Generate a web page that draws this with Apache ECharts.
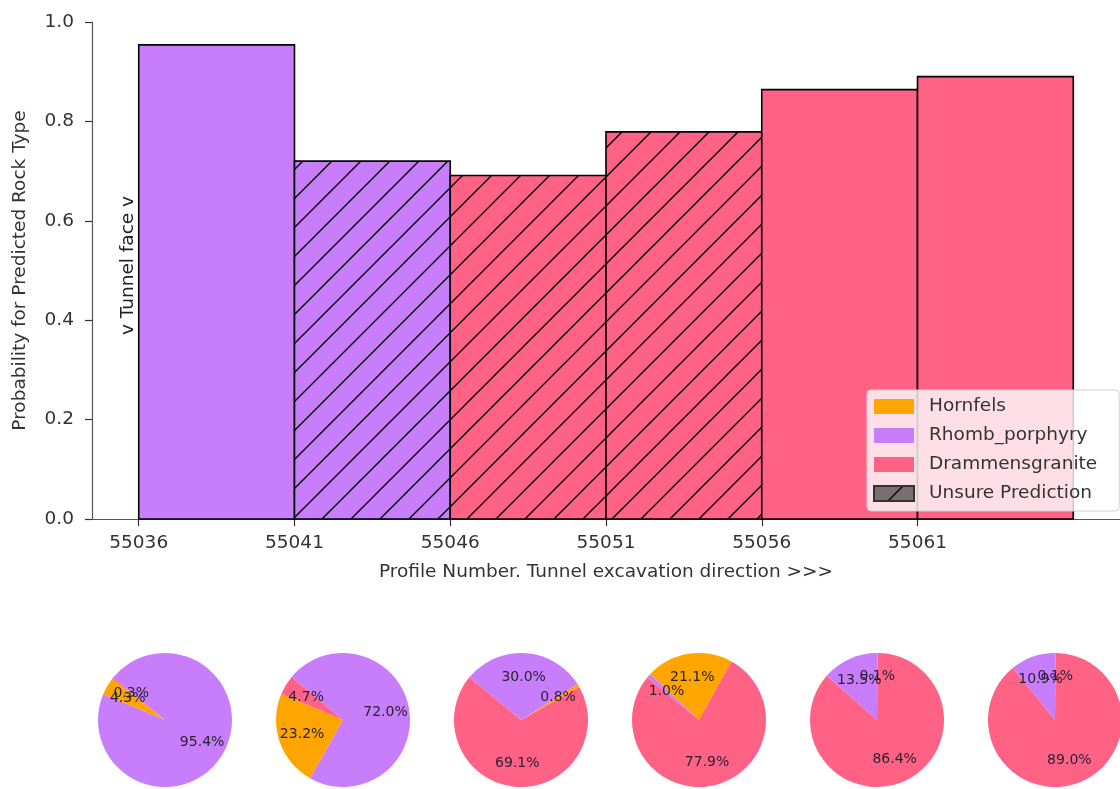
<!DOCTYPE html>
<html>
<head>
<meta charset="utf-8">
<title>Rock type prediction along tunnel</title>
<script src="https://cdn.jsdelivr.net/npm/echarts@6/dist/echarts.min.js"></script>
<style>
  html, body { margin: 0; padding: 0; background: #fff; }
  #chart { width: 1120px; height: 789px; }
</style>
</head>
<body>
<div id="chart"></div>
<script>
// Profile bins (start of each 5-profile section) and tick labels
const profileStarts = [55036, 55041, 55046, 55051, 55056, 55061];
const binWidth = 5;
const xTickValues = [55036, 55041, 55046, 55051, 55056, 55061];
const yTickValues = [0.0, 0.2, 0.4, 0.6, 0.8, 1.0];

// Rock classes
const rockTypes = ['Hornfels', 'Rhomb_porphyry', 'Drammensgranite'];
const rockColors = ['#ffa500', '#c87dfa', '#ff6285'];

// Predicted class probabilities (percent) per section
const hornfelsPct = [4.3, 23.2, 0.8, 21.1, 0.1, 0.1];
const rhombPct    = [95.4, 72.0, 30.0, 1.0, 13.5, 10.9];
const drammenPct  = [0.3, 4.7, 69.1, 77.9, 86.4, 89.0];

// Sections flagged as unsure predictions
const unsureFlags = [false, true, true, true, false, false];

// Start angle of each pie (degrees, first wedge drawn counter-clockwise)
const pieStartAngles = [142, 157, 29.5, 61, 89.6, 89.6];

const FONT = 'DejaVu Sans';
const FS = 18.5;

// Diagonal hatch pattern over a base colour
function hatchPattern(base) {
  const s = 29;
  const c = document.createElement('canvas');
  c.width = s; c.height = s;
  const g = c.getContext('2d');
  g.fillStyle = base;
  g.fillRect(0, 0, s, s);
  g.strokeStyle = '#000';
  g.lineWidth = 1.4;
  g.beginPath();
  g.moveTo(0, s); g.lineTo(s, 0);
  g.moveTo(-s / 2, s / 2); g.lineTo(s / 2, -s / 2);
  g.moveTo(s / 2, s * 1.5); g.lineTo(s * 1.5, s / 2);
  g.stroke();
  return { image: c, repeat: 'repeat' };
}
const hatchFills = rockColors.map(hatchPattern);
const unsureLegendFill = hatchPattern('#7a6e70');

// Bars: predicted class = highest probability
const barData = profileStarts.map((x0, i) => {
  const probs = [hornfelsPct[i], rhombPct[i], drammenPct[i]];
  let k = 0;
  probs.forEach((p, j) => { if (p > probs[k]) k = j; });
  return [x0, x0 + binWidth, probs[k] / 100, k, unsureFlags[i] ? 1 : 0];
});

const chart = echarts.init(document.getElementById('chart'));

const series = [];
series.push({
  type: 'custom',
  name: 'bars',
  data: barData,
  encode: { x: [0, 1], y: 2 },
  renderItem: function (params, api) {
    const x0 = api.value(0), x1 = api.value(1), v = api.value(2);
    const k = api.value(3), unsure = api.value(4);
    const p0 = api.coord([x0, 0]);
    const p1 = api.coord([x1, v]);
    return {
      type: 'rect',
      shape: { x: p0[0], y: p1[1], width: p1[0] - p0[0], height: p0[1] - p1[1] },
      style: {
        fill: unsure ? hatchFills[k] : rockColors[k],
        stroke: '#000',
        lineWidth: 1.6
      }
    };
  },
  silent: true,
  z: 2
});

// Legend-only entries
rockTypes.forEach((name, j) => {
  series.push({ type: 'bar', name: name, data: [], itemStyle: { color: rockColors[j] } });
});
series.push({
  type: 'bar', name: 'Unsure Prediction', data: [],
  itemStyle: { color: unsureLegendFill, borderColor: '#333', borderWidth: 1 }
});

// Pies: one per section
const pieCentersX = [165, 343, 521, 699, 877, 1055];
const pieCenterY = 720;
const pieRadius = 67;
profileStarts.forEach((x0, i) => {
  const values = [hornfelsPct[i], rhombPct[i], drammenPct[i]];
  const data = values.map((v, j) => ({ name: rockTypes[j], value: v, itemStyle: { color: rockColors[j] } }));
  series.push({
    type: 'pie',
    center: [pieCentersX[i], pieCenterY],
    radius: [0, pieRadius],
    startAngle: pieStartAngles[i],
    clockwise: false,
    silent: true,
    label: { show: false },
    labelLine: { show: false },
    data: data,
    animation: false
  });
  // percentage labels placed at 0.6 of the radius
  series.push({
    type: 'pie',
    center: [pieCentersX[i], pieCenterY],
    radius: [0, pieRadius * 1.2],
    startAngle: pieStartAngles[i],
    clockwise: false,
    silent: true,
    avoidLabelOverlap: false,
    minShowLabelAngle: 0,
    labelLayout: { hideOverlap: false },
    label: {
      show: true,
      position: 'inside',
      color: '#2a2333',
      fontFamily: FONT,
      fontSize: 14,
      formatter: p => p.value.toFixed(1) + '%'
    },
    labelLine: { show: false },
    itemStyle: { color: 'rgba(0,0,0,0)' },
    data: values.map((v, j) => ({ name: rockTypes[j] + ' ', value: v })),
    animation: false,
    z: 3
  });
});

const option = {
  animation: false,
  backgroundColor: '#fff',
  grid: { left: 92, right: -11, top: 22, bottom: 270, containLabel: false },
  xAxis: {
    type: 'value',
    min: 55034.5,
    max: 55067.5,
    name: 'Profile Number. Tunnel excavation direction >>>',
    nameLocation: 'middle',
    nameGap: 44,
    nameTextStyle: { fontFamily: FONT, fontSize: FS, color: '#333' },
    axisLine: { show: true, lineStyle: { color: '#555', width: 1.2 } },
    axisTick: { show: true, customValues: xTickValues, length: 7, lineStyle: { color: '#333', width: 1.2 } },
    axisLabel: { customValues: xTickValues, fontFamily: FONT, fontSize: FS, color: '#333', margin: 15, formatter: v => String(v) },
    splitLine: { show: false }
  },
  yAxis: {
    type: 'value',
    min: 0,
    max: 1,
    interval: 0.2,
    name: 'Probability for Predicted Rock Type',
    nameLocation: 'middle',
    nameGap: 62,
    nameTextStyle: { fontFamily: FONT, fontSize: FS, color: '#333' },
    axisLine: { show: true, lineStyle: { color: '#555', width: 1.2 } },
    axisTick: { show: true, length: 7, lineStyle: { color: '#333', width: 1.2 } },
    axisLabel: { fontFamily: FONT, fontSize: FS, color: '#333', margin: 18, formatter: v => v.toFixed(1) },
    splitLine: { show: false }
  },
  legend: {
    data: rockTypes.concat(['Unsure Prediction']),
    orient: 'vertical',
    left: 867,
    top: 390,
    itemWidth: 40,
    itemHeight: 15,
    itemGap: 10,
    icon: 'rect',
    textStyle: { fontFamily: FONT, fontSize: FS, color: '#333', padding: [0, 0, 0, 10] },
    backgroundColor: 'rgba(255,255,255,0.8)',
    borderColor: '#d0d0d0',
    borderWidth: 1,
    borderRadius: 4,
    padding: [7, 22, 8, 6],
    selectedMode: false
  },
  series: series
};

chart.setOption(option);

// Tunnel face marker beside the first section
const facePos = chart.convertToPixel({ gridIndex: 0 }, [profileStarts[0] - 0.35, 0.51]);
chart.setOption({
  graphic: [{
    type: 'text',
    x: facePos[0],
    y: facePos[1],
    rotation: Math.PI / 2,
    style: {
      text: 'v Tunnel face v',
      fontFamily: FONT,
      fontSize: FS,
      fill: '#222',
      align: 'center',
      verticalAlign: 'middle'
    },
    z: 10
  }]
});
</script>
</body>
</html>
